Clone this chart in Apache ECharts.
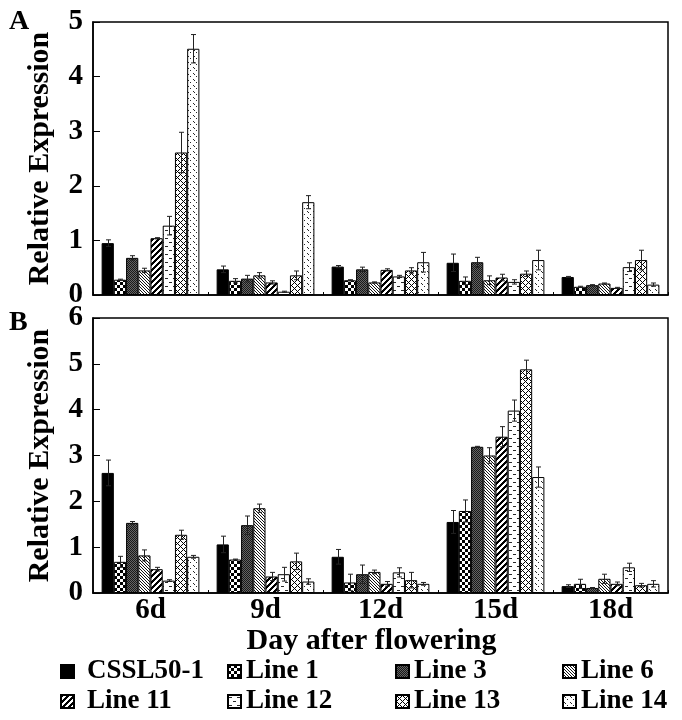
<!DOCTYPE html>
<html>
<head>
<meta charset="utf-8">
<script src="https://cdn.jsdelivr.net/npm/echarts@6/dist/echarts.min.js"></script>
<style>
html,body{margin:0;padding:0;background:#fff;}
#chart{width:682px;height:720px;}
</style>
</head>
<body>
<div id="chart"></div>
<script>
// ---------- data ----------
const categories = ['6d', '9d', '12d', '15d', '18d'];
const seriesNames = ['CSSL50-1', 'Line 1', 'Line 3', 'Line 6', 'Line 11', 'Line 12', 'Line 13', 'Line 14'];
const yTicksA = [0, 1, 2, 3, 4, 5];
const yTicksB = [0, 1, 2, 3, 4, 5, 6];

// Panel A values (per series, across categories)
const aCSSL  = [0.95, 0.47, 0.52, 0.59, 0.33];
const aLine1 = [0.28, 0.26, 0.27, 0.26, 0.15];
const aLine3 = [0.68, 0.30, 0.47, 0.60, 0.18];
const aLine6 = [0.45, 0.36, 0.23, 0.27, 0.21];
const aLine11 = [1.04, 0.23, 0.46, 0.32, 0.13];
const aLine12 = [1.27, 0.06, 0.34, 0.24, 0.51];
const aLine13 = [2.61, 0.36, 0.45, 0.39, 0.64];
const aLine14 = [4.51, 1.70, 0.60, 0.64, 0.19];
// Panel A errors
const aCSSLErr  = [0.06, 0.06, 0.02, 0.16, 0.01];
const aLine1Err = [0.01, 0.04, 0.01, 0.07, 0.01];
const aLine3Err = [0.04, 0.06, 0.04, 0.09, 0.01];
const aLine6Err = [0.04, 0.05, 0.01, 0.08, 0.01];
const aLine11Err = [0.01, 0.03, 0.02, 0.06, 0.01];
const aLine12Err = [0.17, 0.01, 0.02, 0.04, 0.08];
const aLine13Err = [0.37, 0.08, 0.05, 0.05, 0.18];
const aLine14Err = [0.26, 0.12, 0.18, 0.18, 0.03];

// Panel B values
const bCSSL  = [2.62, 1.06, 0.79, 1.55, 0.15];
const bLine1 = [0.68, 0.73, 0.23, 1.79, 0.20];
const bLine3 = [1.53, 1.48, 0.41, 3.19, 0.11];
const bLine6 = [0.82, 1.85, 0.46, 3.00, 0.31];
const bLine11 = [0.52, 0.36, 0.20, 3.41, 0.20];
const bLine12 = [0.27, 0.41, 0.45, 3.98, 0.56];
const bLine13 = [1.27, 0.69, 0.28, 4.88, 0.17];
const bLine14 = [0.79, 0.25, 0.20, 2.53, 0.20];
// Panel B errors
const bCSSLErr  = [0.28, 0.18, 0.16, 0.25, 0.03];
const bLine1Err = [0.12, 0.01, 0.18, 0.24, 0.10];
const bLine3Err = [0.03, 0.20, 0.20, 0.01, 0.01];
const bLine6Err = [0.12, 0.09, 0.04, 0.17, 0.10];
const bLine11Err = [0.04, 0.09, 0.05, 0.22, 0.04];
const bLine12Err = [0.02, 0.15, 0.10, 0.23, 0.09];
const bLine13Err = [0.10, 0.18, 0.17, 0.20, 0.04];
const bLine14Err = [0.03, 0.06, 0.03, 0.22, 0.07];

const valuesA = [aCSSL, aLine1, aLine3, aLine6, aLine11, aLine12, aLine13, aLine14];
const errorsA = [aCSSLErr, aLine1Err, aLine3Err, aLine6Err, aLine11Err, aLine12Err, aLine13Err, aLine14Err];
const valuesB = [bCSSL, bLine1, bLine3, bLine6, bLine11, bLine12, bLine13, bLine14];
const errorsB = [bCSSLErr, bLine1Err, bLine3Err, bLine6Err, bLine11Err, bLine12Err, bLine13Err, bLine14Err];

// ---------- patterns ----------
function tile(w, h, fn, bg) {
  const c = document.createElement('canvas');
  c.width = w; c.height = h;
  const ctx = c.getContext('2d');
  ctx.fillStyle = bg || '#fff';
  ctx.fillRect(0, 0, w, h);
  const img = ctx.getImageData(0, 0, w, h);
  for (let y = 0; y < h; y++) for (let x = 0; x < w; x++) {
    const v = fn(x, y);
    if (v !== null && v !== undefined) {
      const i = (y * w + x) * 4;
      img.data[i] = v; img.data[i + 1] = v; img.data[i + 2] = v; img.data[i + 3] = 255;
    }
  }
  ctx.putImageData(img, 0, 0);
  return { image: c, repeat: 'repeat' };
}
const patterns = [
  '#000',
  tile(6, 6, (x, y) => ((Math.floor(x / 3) + Math.floor(y / 3)) % 2 === 0 ? 0 : null)),
  tile(2, 2, (x, y) => ((x + y) % 2 === 0 ? 25 : 100), '#555'),
  tile(3, 3, (x, y) => (((x - y) % 3 + 3) % 3 === 0 ? 20 : null)),
  tile(6, 6, (x, y) => ((x + y) % 6 < 3 ? 0 : null)),
  tile(8, 8, (x, y) => ((y === 2 && x >= 1 && x <= 3) || (y === 6 && x >= 5 && x <= 7) ? 40 : null)),
  tile(6, 6, (x, y) => ((x + y) % 6 === 0 || ((x - y) % 6 + 6) % 6 === 0 ? 0 : null)),
  tile(6, 6, (x, y) => ((x === 1 && y === 1) || (x === 4 && y === 4) || (x === 2 && y === 2) ? 40 : null))
];

// ---------- build options ----------
const FONT = 'Liberation Serif';
const labelStyle = { fontFamily: FONT, fontWeight: 'bold', fontSize: 29, color: '#000' };

function barSeries(values, axisIdx) {
  return values.map((vals, i) => ({
    name: seriesNames[i],
    type: 'bar',
    xAxisIndex: axisIdx,
    yAxisIndex: axisIdx,
    data: vals,
    barGap: '0%',
    barCategoryGap: '15%',
    itemStyle: { color: patterns[i], borderColor: '#000', borderWidth: 1 },
    emphasis: { disabled: true },
    animation: false,
    z: 2
  }));
}
function errData(values, errors) {
  const out = [];
  values.forEach((vals, s) => vals.forEach((v, c) => out.push([c, s, v, errors[s][c]])));
  return out;
}
function errSeries(values, errors, axisIdx) {
  return {
    type: 'custom',
    xAxisIndex: axisIdx,
    yAxisIndex: axisIdx,
    data: errData(values, errors),
    encode: { x: 0, y: 2 },
    z: 5,
    silent: true,
    animation: false,
    renderItem: function (params, api) {
      const c = api.value(0), s = api.value(1), v = api.value(2), e = api.value(3);
      const band = api.size([1, 0])[0];
      const bw = band * 0.85 / 8;
      const base = api.coord([c, v]);
      const x = Math.round(base[0] + (s - 3.5) * bw) + 0.5;
      const yt = api.coord([c, v + e])[1];
      const yb = api.coord([c, Math.max(v - e, 0)])[1];
      const cap = 2.5;
      const st = { stroke: '#222', lineWidth: 1, fill: null };
      return {
        type: 'group',
        children: [
          { type: 'line', shape: { x1: x, y1: yt, x2: x, y2: yb }, style: st },
          { type: 'line', shape: { x1: x - cap, y1: yt, x2: x + cap, y2: yt }, style: st },
          { type: 'line', shape: { x1: x - cap, y1: yb, x2: x + cap, y2: yb }, style: st }
        ]
      };
    }
  };
}

function xAxis(gridIndex, showLabels) {
  return {
    type: 'category',
    gridIndex: gridIndex,
    data: categories,
    boundaryGap: true,
    axisLine: { lineStyle: { color: '#000', width: 1.5 } },
    axisTick: { show: true, inside: true, length: 3, interval: 0, lineStyle: { color: '#000' } },
    axisLabel: Object.assign({ show: showLabels, margin: 3, interval: 0 }, labelStyle),
    splitLine: { show: false },
    name: showLabels ? 'Day after flowering' : '',
    nameLocation: 'middle',
    nameGap: 31,
    nameTextStyle: Object.assign({}, labelStyle, { fontSize: 30, padding: [0, 18, 0, 0] })
  };
}
function yAxis(gridIndex, max) {
  return {
    type: 'value',
    gridIndex: gridIndex,
    min: 0,
    max: max,
    interval: 1,
    axisLine: { show: true, lineStyle: { color: '#000', width: 1.5 } },
    axisTick: { show: true, inside: true, length: 7, lineStyle: { color: '#000' } },
    axisLabel: Object.assign({ margin: 10 }, labelStyle),
    splitLine: { show: false },
    name: 'Relative Expression',
    nameLocation: 'middle',
    nameRotate: 90,
    nameGap: 38,
    nameTextStyle: Object.assign({}, labelStyle, { fontSize: 30 })
  };
}

const legendBase = {
  orient: 'vertical',
  top: 658,
  padding: 0,
  icon: 'rect',
  itemWidth: 13,
  itemHeight: 13,
  itemGap: 3,
  selectedMode: false,
  textStyle: { fontFamily: FONT, fontWeight: 'bold', fontSize: 27, color: '#000', lineHeight: 27 }
};

const option = {
  backgroundColor: '#fff',
  animation: false,
  title: [
    { text: 'A', left: 9, top: 8, padding: 0, textStyle: { fontFamily: FONT, fontWeight: 'bold', fontSize: 28, color: '#000' } },
    { text: 'B', left: 9, top: 309, padding: 0, textStyle: { fontFamily: FONT, fontWeight: 'bold', fontSize: 28, color: '#000' } }
  ],
  grid: [
    { left: 93, right: 14, top: 22, height: 273, show: true, borderColor: '#000', borderWidth: 1.5, backgroundColor: 'transparent' },
    { left: 93, right: 14, top: 318, height: 275, show: true, borderColor: '#000', borderWidth: 1.5, backgroundColor: 'transparent' }
  ],
  xAxis: [xAxis(0, false), xAxis(1, true)],
  yAxis: [yAxis(0, 5), yAxis(1, 6)],
  legend: [
    Object.assign({}, legendBase, { left: 60, data: ['CSSL50-1', 'Line 11'], textStyle: Object.assign({}, legendBase.textStyle, { padding: [0, 0, 0, 8] }) }),
    Object.assign({}, legendBase, { left: 227, data: ['Line 1', 'Line 12'] }),
    Object.assign({}, legendBase, { left: 395, data: ['Line 3', 'Line 13'] }),
    Object.assign({}, legendBase, { left: 562, data: ['Line 6', 'Line 14'] })
  ],
  series: [].concat(
    barSeries(valuesA, 0),
    barSeries(valuesB, 1),
    [errSeries(valuesA, errorsA, 0), errSeries(valuesB, errorsB, 1)]
  )
};

const chart = echarts.init(document.getElementById('chart'), null, { renderer: 'canvas' });
chart.setOption(option);
</script>
</body>
</html>
